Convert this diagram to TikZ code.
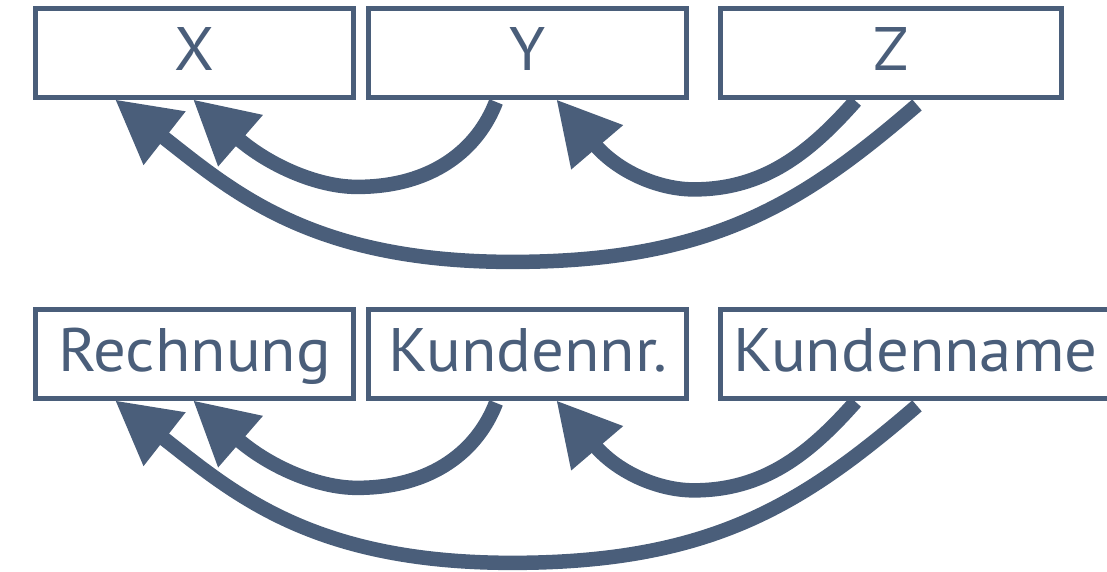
\documentclass[tikz,border=0pt]{standalone}
\usepackage{fontspec}
\setmainfont{PT Sans}[FakeStretch=1.055]
\usetikzlibrary{arrows.meta,calc}
\definecolor{slate}{HTML}{4A5E7A}
\pgfdeclarelayer{bg}
\pgfsetlayers{bg,main}
\begin{document}
\begin{tikzpicture}[x=1pt,y=-1pt,
  box/.style={draw=slate, line width=5pt, fill=white, minimum height=88.5pt,
    inner sep=0pt, outer sep=0pt, text=slate, text height=50pt, text depth=13.8pt,
    font=\fontsize{61.4}{70}\selectfont},
  arr/.style={draw=slate, line width=14.5pt,
    -{Triangle[length=63pt,width=64pt,fill=slate]}}]
\useasboundingbox (0,0) rectangle (1107,571);
% top row
\node[box, minimum width=317.7pt] (X) at (194.65,52.85) {X};
\node[box, minimum width=317.7pt] (Y) at (527.65,52.85) {Y};
\node[box, minimum width=340.2pt] (Z) at (890.9,52.85) {Z};
% bottom row
\node[box, minimum width=317.7pt] (R) at (194.65,353.8) {Rechnung};
\node[box, minimum width=317.7pt] (K) at (527.65,353.8) {Kundennr.};
\node[box, minimum width=389.2pt] (N) at (915.4,353.8) {Kundenname};
\begin{pgfonlayer}{bg}
\foreach \a/\b/\c in {X/Y/Z,R/K/N}{
  \draw[arr] ($(\b.south west)+(127.2,4.8)$)
     .. controls +(-18,47) and +(76,0) .. ++(-139,85)
     .. controls +(-40,0) and +(75.5,65.6) .. ($(\a.south west)+(157.2,2.3)$);
  \draw[arr] ($(\c.south west)+(196.2,7.8)$)
     .. controls +(-114,98) and +(200,0) .. ++(-405,157)
     .. controls +(-200,0) and +(118,92.4) .. ($(\a.south west)+(79.2,2.3)$);
  \draw[arr] ($(\c.south west)+(134.7,3.8)$)
     .. controls +(-46.4,52.4) and +(70,0) .. ++(-161.8,88.5)
     .. controls +(-35,0) and +(61.7,72.3) .. ($(\b.south west)+(187.5,2.3)$);
}
\end{pgfonlayer}
\end{tikzpicture}
\end{document}
